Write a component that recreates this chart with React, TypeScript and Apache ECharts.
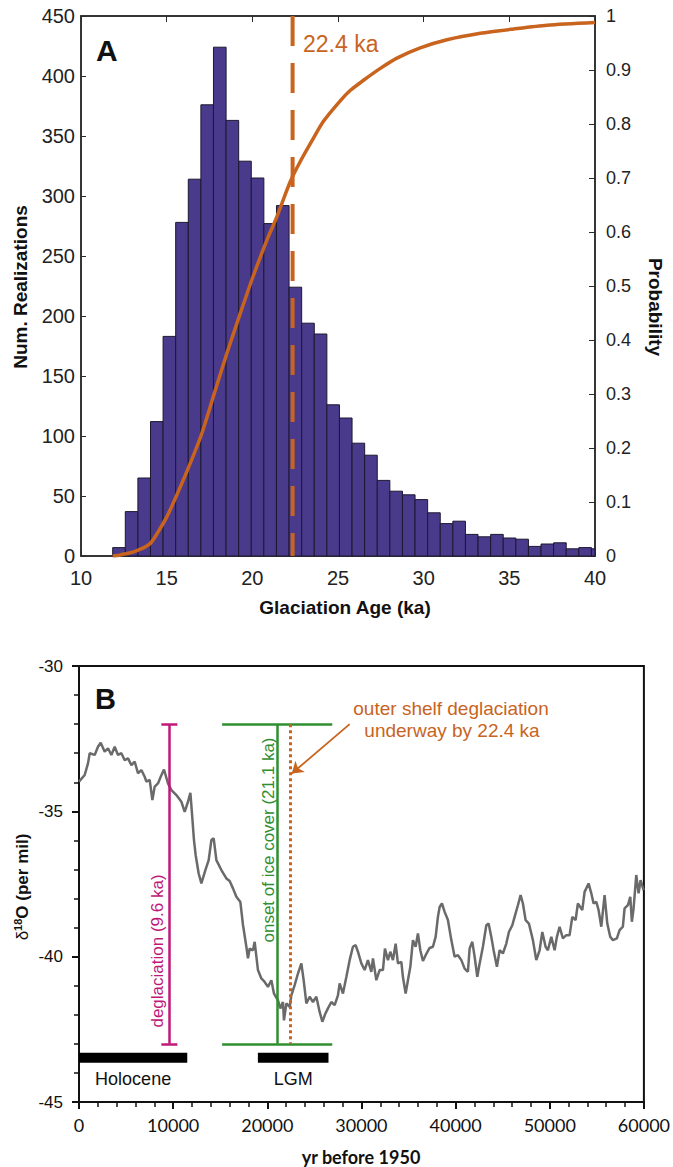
import React, { useEffect, useRef } from "react";
import * as echarts from "echarts";

// ---------- Panel A data ----------
const histStartKa = 11.85; // left edge of first bin (ka)
const histBinKa = 0.7353; // bin width (ka)
const histCounts = [
  7, 37, 65, 112, 183, 278, 314, 376, 424, 363, 329, 315, 277, 292, 224, 194, 185, 126, 115, 94,
  84, 63, 54, 51, 47, 36, 27, 29, 18, 16, 18, 15, 14, 8, 10, 11, 6, 7, 6,
];
const cdfAge = [
  11.85, 12.3, 12.59, 13.0, 13.33, 13.7, 14.07, 14.45, 15.0, 15.55, 16.29, 17.03, 17.77, 18.51,
  19.25, 19.99, 20.85, 21.43, 22.21, 22.79, 23.5, 24.15, 25.13, 25.71, 26.49, 27.47, 28.44, 29.8,
  31.36, 33.31, 35.25, 37.2, 40,
];
const cdfProb = [
  0, 0.002, 0.004, 0.007, 0.011, 0.016, 0.024, 0.042, 0.072, 0.11, 0.165, 0.225, 0.3, 0.375,
  0.445, 0.513, 0.585, 0.628, 0.693, 0.73, 0.77, 0.805, 0.843, 0.862, 0.881, 0.903, 0.922, 0.941,
  0.956, 0.968, 0.976, 0.983, 0.988,
];
const glaciationAgeKa = 22.35;

// ---------- Panel B data ----------
const isoYear = [
  0, 605, 956, 1136, 1667, 2018, 2304, 2729, 3080, 3440, 3791, 4141, 4503, 4853, 5203, 5565, 5915,
  6265, 6626, 6977, 7157, 7508, 7794, 8039, 8389, 8676, 9026, 9451, 9812, 10343, 10874, 11224,
  11575, 11830, 12000, 12212, 12393, 12711, 12998, 13423, 13773, 14060, 14304, 14591, 15122, 15653,
  16003, 16353, 16715, 17140, 17415, 17776, 17946, 18127, 18477, 18658, 19008, 19369, 19720, 20070,
  20431, 20707, 21132, 21387, 21663, 21769, 22024, 22374, 22555, 22905, 23256, 23617, 23861, 24148,
  24498, 24849, 25210, 25560, 25847, 26166, 26441, 26802, 27153, 27503, 27684, 28034, 28395, 28746,
  29096, 29383, 29627, 29989, 30339, 30689, 31051, 31221, 31581, 31931, 32282, 32494, 32813, 33068,
  33344, 33631, 33875, 34236, 34406, 34693, 34937, 35192, 35468, 35755, 35999, 36254, 36531, 36891,
  37242, 37592, 37879, 38123, 38304, 38548, 38835, 39185, 39546, 39897, 40247, 40608, 40959, 41309,
  41489, 41776, 42020, 42307, 42550, 42901, 43262, 43506, 43793, 44037, 44388, 44675, 45025, 45386,
  45662, 46023, 46268, 46618, 46905, 47149, 47436, 47786, 48211, 48572, 48922, 49209, 49559, 49804,
  50165, 50515, 50759, 51046, 51396, 51757, 52108, 52394, 52745, 52989, 53456, 53701, 54125, 54412,
  54656, 54943, 55187, 55474, 55824, 56111, 56430, 56706, 57130, 57417, 57767, 57948, 58298, 58553,
  58723, 58904, 59190, 59434, 59647, 59965,
];
const isoD18O = [
  -33.98, -33.75, -33.35, -33.0, -33.06, -32.78, -32.64, -32.95, -32.83, -33.06, -32.78, -33.06,
  -33.0, -33.24, -33.18, -33.41, -33.29, -33.69, -33.58, -33.81, -33.98, -33.92, -34.61, -34.15,
  -34.04, -33.81, -33.56, -34.04, -34.27, -34.44, -34.67, -35.02, -34.67, -34.36, -35.07, -35.99,
  -36.51, -37.14, -37.48, -37.02, -36.68, -35.99, -35.93, -36.68, -37.02, -37.31, -37.4, -37.65,
  -37.94, -38.12, -38.9, -39.66, -40.06, -39.72, -39.78, -39.49, -40.46, -40.75, -40.87, -41.04,
  -40.81, -41.27, -41.5, -41.78, -41.56, -42.19, -41.61, -41.73, -41.33, -40.98, -40.58, -40.23,
  -40.81, -41.61, -41.38, -41.56, -41.38, -41.9, -42.24, -41.96, -41.78, -41.56, -41.67, -41.33,
  -40.92, -41.27, -40.7, -40.12, -39.66, -39.6, -39.83, -40.23, -40.46, -40.12, -40.52, -40.06,
  -40.81, -40.46, -40.46, -39.72, -40.12, -39.83, -40.12, -39.55, -40.23, -40.18, -40.7, -41.27,
  -40.81, -40.35, -39.43, -39.66, -39.2, -39.78, -40.15, -39.9, -39.7, -39.66, -39.32, -38.63,
  -38.29, -38.17, -38.46, -38.74, -39.43, -40.0, -39.95, -40.12, -40.41, -40.52, -39.72, -39.49,
  -40.0, -40.69, -40.24, -39.66, -38.92, -38.86, -39.32, -39.78, -40.35, -39.78, -39.89, -39.55,
  -39.15, -38.92, -38.63, -38.23, -37.88, -38.17, -38.74, -38.86, -39.43, -40.12, -39.78, -39.15,
  -39.66, -39.78, -39.32, -39.78, -39.32, -38.97, -39.37, -39.26, -39.26, -38.63, -38.74, -38.17,
  -38.4, -37.77, -37.48, -37.82, -38.17, -38.11, -38.4, -38.97, -37.88, -38.86, -39.32, -39.43,
  -39.37, -39.09, -38.97, -38.34, -38.23, -37.94, -38.8, -38.34, -37.19, -37.82, -37.37, -37.71,
];

// annotations in panel B (data units)
const deglaciationYr = 9600;
const iceCoverYr = 21100;
const outerShelfYr = 22400;
const barTop = -32;
const barBottom = -43;
const deglacCap = [8750, 10450];
const iceCoverCap = [15200, 26900];
const arrowFrom = [28750, -32.0];
const arrowTo = [22600, -33.7];
const periodNames = ["Holocene", "LGM"];
const periodStart = [0, 19000];
const periodEnd = [11500, 26500];
const periodBarLevel = -43.48;
const periodLabelLevel = -44.22;

const PURPLE = "#4a3a8c";
const ORANGE = "#c8641e";
const GREEN = "#2f8f2f";
const MAGENTA = "#c0187a";
const GREY = "#6a6a6a";
const ARIAL = "'Liberation Sans', Arial, sans-serif";
const CAL = "Lato, 'Open Sans', sans-serif";

export default function App() {
  const ref = useRef<HTMLDivElement>(null);
  useEffect(() => {
    if (!ref.current) return;
    const chart = echarts.init(ref.current, undefined, { renderer: "svg" });

    const histData = histCounts.map((c, i) => [
      histStartKa + i * histBinKa,
      histStartKa + (i + 1) * histBinKa,
      c,
    ]);
    const cdfData = cdfAge.map((a, i) => [a, cdfProb[i]]);
    const isoData = isoYear.map((x, i) => [x, isoD18O[i]]);
    const periodData = periodNames.map((_, i) => [
      periodStart[i],
      periodEnd[i],
      periodBarLevel,
      periodLabelLevel,
    ]);

    const axLineA = { show: true, onZero: false, lineStyle: { color: "#2a2a2a", width: 1.5 } };
    const axLineB = { show: true, onZero: false, lineStyle: { color: "#111", width: 2 } };
    const seg = (color: string, width: number, type: any = "solid") => ({
      color, width, type, opacity: 1, curveness: 0,
    });

    const option: any = {
      animation: false,
      backgroundColor: "#ffffff",
      grid: [
        {
          left: 81, top: 16, width: 514, height: 540, show: true,
          borderColor: "#2a2a2a", borderWidth: 1.5, backgroundColor: "transparent",
        },
        {
          left: 79, top: 666, width: 565, height: 436, show: true,
          borderColor: "#111", borderWidth: 2, backgroundColor: "transparent",
        },
      ],
      xAxis: [
        {
          gridIndex: 0, type: "value", min: 10, max: 40, interval: 5, position: "bottom",
          axisLine: axLineA,
          axisTick: { show: true, inside: true, length: 6, lineStyle: { color: "#2a2a2a" } },
          axisLabel: { fontFamily: ARIAL, fontSize: 20, color: "#222", margin: 12 },
          splitLine: { show: false },
        },
        {
          gridIndex: 0, type: "value", min: 10, max: 40, interval: 5, position: "top",
          axisLine: axLineA,
          axisTick: { show: true, inside: true, length: 6, lineStyle: { color: "#2a2a2a" } },
          axisLabel: { show: false },
          splitLine: { show: false },
        },
        {
          gridIndex: 1, type: "value", min: 0, max: 60000, interval: 10000,
          axisLine: axLineB,
          axisTick: { show: true, length: 7, lineStyle: { color: "#111", width: 2 } },
          minorTick: { show: true, splitNumber: 5, length: 5, lineStyle: { color: "#111", width: 1.5 } },
          axisLabel: {
            fontFamily: CAL, fontSize: 18, color: "#111", margin: 14,
            formatter: (v: number) => String(v),
          },
          splitLine: { show: false },
        },
      ],
      yAxis: [
        {
          gridIndex: 0, type: "value", min: 0, max: 450, interval: 50,
          axisLine: axLineA,
          axisTick: { show: true, inside: true, length: 5, lineStyle: { color: "#2a2a2a" } },
          axisLabel: { fontFamily: ARIAL, fontSize: 20, color: "#222", margin: 6 },
          splitLine: { show: false },
        },
        {
          gridIndex: 0, type: "value", min: 0, max: 1, interval: 0.1, position: "right",
          axisLine: axLineA,
          axisTick: { show: true, inside: true, length: 6, lineStyle: { color: "#2a2a2a" } },
          axisLabel: {
            fontFamily: ARIAL, fontSize: 18, color: "#222", margin: 11,
            formatter: (v: number) => (v === 0 ? "0" : v === 1 ? "1" : v.toFixed(1)),
          },
          splitLine: { show: false },
        },
        {
          gridIndex: 1, type: "value", min: -45, max: -30, interval: 5,
          axisLine: axLineB,
          axisTick: { show: true, length: 7, lineStyle: { color: "#111", width: 2 } },
          minorTick: { show: true, splitNumber: 5, length: 5, lineStyle: { color: "#111", width: 1.5 } },
          axisLabel: { fontFamily: ARIAL, fontSize: 17, color: "#111", margin: 16 },
          splitLine: { show: false },
        },
      ],
      series: [
        {
          type: "custom",
          xAxisIndex: 0,
          yAxisIndex: 0,
          data: histData,
          encode: { x: [0, 1], y: 2 },
          z: 2,
          renderItem: (params: any, api: any) => {
            const p0 = api.coord([api.value(0), api.value(2)]);
            const p1 = api.coord([api.value(1), 0]);
            const cs = params.coordSys;
            const shape = echarts.graphic.clipRectByRect(
              { x: p0[0], y: p0[1], width: p1[0] - p0[0], height: p1[1] - p0[1] },
              { x: cs.x, y: cs.y, width: cs.width, height: cs.height }
            );
            if (!shape) return null;
            return {
              type: "rect",
              shape,
              style: { fill: PURPLE, stroke: "#1c1830", lineWidth: 1 },
            };
          },
        },
        {
          type: "line",
          xAxisIndex: 0,
          yAxisIndex: 0,
          data: [
            [glaciationAgeKa, 450],
            [glaciationAgeKa, 0],
          ],
          showSymbol: false,
          symbol: "none",
          lineStyle: { color: ORANGE, width: 4, type: [30, 17] },
          z: 3,
        },
        {
          type: "line",
          xAxisIndex: 0,
          yAxisIndex: 1,
          data: cdfData,
          smooth: 0.25,
          showSymbol: false,
          symbol: "none",
          lineStyle: { color: ORANGE, width: 3.5 },
          z: 4,
        },
        {
          type: "line",
          xAxisIndex: 2,
          yAxisIndex: 2,
          data: isoData,
          showSymbol: false,
          symbol: "none",
          lineStyle: { color: GREY, width: 2.5 },
          z: 2,
        },
        {
          type: "lines",
          coordinateSystem: "cartesian2d",
          xAxisIndex: 2,
          yAxisIndex: 2,
          z: 3,
          symbol: "none",
          lineStyle: { opacity: 1 },
          data: [
            { coords: [[deglaciationYr, barTop], [deglaciationYr, barBottom]], lineStyle: seg(MAGENTA, 2.5) },
            { coords: [[deglacCap[0], barTop], [deglacCap[1], barTop]], lineStyle: seg(MAGENTA, 2.5) },
            { coords: [[deglacCap[0], barBottom], [deglacCap[1], barBottom]], lineStyle: seg(MAGENTA, 2.5) },
            { coords: [[iceCoverYr, barTop], [iceCoverYr, barBottom]], lineStyle: seg(GREEN, 2.5) },
            { coords: [[iceCoverCap[0], barTop], [iceCoverCap[1], barTop]], lineStyle: seg(GREEN, 2.5) },
            { coords: [[iceCoverCap[0], barBottom], [iceCoverCap[1], barBottom]], lineStyle: seg(GREEN, 2.5) },
            { coords: [[outerShelfYr, barTop], [outerShelfYr, barBottom]], lineStyle: seg(ORANGE, 3, [3, 3]) },
          ],
        },
        {
          type: "lines",
          coordinateSystem: "cartesian2d",
          xAxisIndex: 2,
          yAxisIndex: 2,
          z: 4,
          symbol: ["none", "arrow"],
          symbolSize: 11,
          lineStyle: { color: ORANGE, width: 1.8, opacity: 1 },
          data: [{ coords: [arrowFrom, arrowTo] }],
        },
        {
          type: "custom",
          xAxisIndex: 2,
          yAxisIndex: 2,
          data: periodData,
          encode: { x: [0, 1], y: 2 },
          z: 3,
          renderItem: (params: any, api: any) => {
            const a = api.coord([api.value(0), api.value(2)]);
            const b = api.coord([api.value(1), api.value(2)]);
            const t = api.coord([(api.value(0) + api.value(1)) / 2, api.value(3)]);
            return {
              type: "group",
              children: [
                { type: "rect", shape: { x: a[0], y: a[1] - 5, width: b[0] - a[0], height: 10 }, style: { fill: "#000" } },
                {
                  type: "text", x: t[0], y: t[1],
                  style: {
                    text: periodNames[params.dataIndex], fill: "#111",
                    font: `18px ${ARIAL}`, align: "center", verticalAlign: "middle",
                  },
                },
              ],
            };
          },
        },
      ],
      graphic: [
        { type: "text", x: 96, y: 50, style: { text: "A", font: `bold 30px ${ARIAL}`, fill: "#111", verticalAlign: "middle" } },
        { type: "text", x: 303, y: 44, style: { text: "22.4 ka", font: `23px ${ARIAL}`, fill: ORANGE, verticalAlign: "middle" } },
        {
          type: "text", x: 20, y: 287, rotation: Math.PI / 2,
          style: { text: "Num. Realizations", font: `bold 19px ${ARIAL}`, fill: "#111", align: "center", verticalAlign: "middle" },
        },
        {
          type: "text", x: 655, y: 307, rotation: -Math.PI / 2,
          style: { text: "Probability", font: `bold 19px ${ARIAL}`, fill: "#111", align: "center", verticalAlign: "middle" },
        },
        {
          type: "text", x: 345, y: 607,
          style: { text: "Glaciation Age (ka)", font: `bold 19px ${ARIAL}`, fill: "#111", align: "center", verticalAlign: "middle" },
        },
        { type: "text", x: 95, y: 699, style: { text: "B", font: `bold 29px ${ARIAL}`, fill: "#111", verticalAlign: "middle" } },
        {
          type: "text", x: 451, y: 708,
          style: { text: "outer shelf deglaciation", font: `19px ${ARIAL}`, fill: ORANGE, align: "center", verticalAlign: "middle" },
        },
        {
          type: "text", x: 452, y: 730,
          style: { text: "underway by 22.4 ka", font: `19px ${ARIAL}`, fill: ORANGE, align: "center", verticalAlign: "middle" },
        },
        {
          type: "text", x: 157, y: 951, rotation: Math.PI / 2,
          style: { text: "deglaciation (9.6 ka)", font: `17px ${ARIAL}`, fill: MAGENTA, align: "center", verticalAlign: "middle" },
        },
        {
          type: "text", x: 268, y: 840, rotation: Math.PI / 2,
          style: { text: "onset of ice cover (21.1 ka)", font: `17px ${ARIAL}`, fill: GREEN, align: "center", verticalAlign: "middle" },
        },
        {
          type: "text", x: 22, y: 887, rotation: Math.PI / 2,
          style: {
            text: "{d|δ}{s|18}{b|O (per mil)}",
            align: "center", verticalAlign: "middle", fill: "#111",
            rich: {
              d: { font: `17px ${ARIAL}`, fill: "#111", lineHeight: 20 },
              s: { font: `bold 11px ${ARIAL}`, fill: "#111", verticalAlign: "top", lineHeight: 20, padding: [0, 0, 8, 0] },
              b: { font: `bold 17px ${ARIAL}`, fill: "#111", lineHeight: 20 },
            },
          },
        },
        {
          type: "text", x: 361, y: 1157,
          style: { text: "yr before 1950", font: `bold 18px ${CAL}`, fill: "#111", align: "center", verticalAlign: "middle" },
        },
      ],
    };

    chart.setOption(option);
    return () => chart.dispose();
  }, []);

  return (
    <div
      ref={ref}
      style={{ position: "absolute", left: 0, top: 0, width: 673, height: 1167, background: "#fff" }}
    />
  );
}
